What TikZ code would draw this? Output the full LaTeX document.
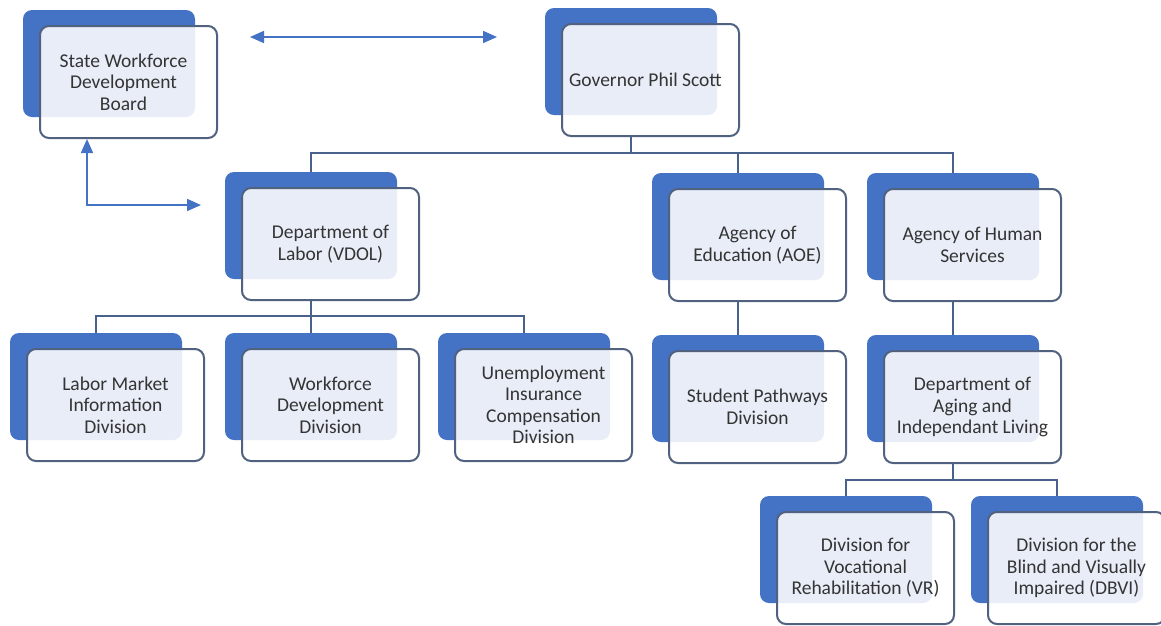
\documentclass[tikz,border=0pt]{standalone}
\usepackage{fontspec}
\setmainfont{Carlito}
\usepackage{tikz}
\usetikzlibrary{arrows.meta}
\definecolor{orgblue}{RGB}{68,114,196}
\definecolor{framec}{RGB}{80,98,128}
\definecolor{wirec}{RGB}{72,98,140}
\definecolor{ink}{RGB}{52,52,52}
\tikzset{
	unitback/.style={rectangle, rounded corners=9pt, fill=orgblue,
		minimum width=172pt, minimum height=107pt, inner sep=0pt},
	unitfront/.style={rectangle, rounded corners=9pt, draw=framec, line width=2pt,
		fill=white, fill opacity=0.88, text opacity=1, text=ink,
		minimum width=177pt, minimum height=112pt, inner sep=0pt,
		align=center, font=\fontsize{19.5}{21.5}\selectfont},
	wire/.style={draw=wirec, line width=1.9pt},
	dual/.style={draw=orgblue, line width=1.6pt,
		{Triangle[length=14pt,width=12pt]}-{Triangle[length=14pt,width=12pt]}},
}

\begin{document}
\begin{tikzpicture}[x=1pt, y=-1pt]
	\useasboundingbox (0,0) rectangle (1161,625);
	\fill[white] (0,0) rectangle (1161,625);
	% top row
	\node[unitback] (swdb-b) at (109,63.5) {};
	\node[unitfront] (swdb) at (128.5,82) {\hspace*{-10pt}State Workforce\\\hspace*{-10pt}Development\\\hspace*{-10pt}Board};
	\node[unitback] (gov-b) at (631,61.5) {};
	\node[unitfront] (gov) at (650.5,80) {\hspace*{-10pt}Governor Phil Scott};
	% agencies
	\node[unitback] (dol-b) at (311,225.5) {};
	\node[unitfront] (dol) at (330.5,244) {Department of\\Labor (VDOL)};
	\node[unitback] (aoe-b) at (738,226.5) {};
	\node[unitfront] (aoe) at (757.5,245) {Agency of\\Education (AOE)};
	\node[unitback] (ahs-b) at (953,226.5) {};
	\node[unitfront] (ahs) at (972.5,245) {Agency of Human\\Services};
	% divisions
	\node[unitback] (lmi-b) at (96,386.5) {};
	\node[unitfront] (lmi) at (115.5,405) {Labor Market\\Information\\Division};
	\node[unitback] (wdd-b) at (311,386.5) {};
	\node[unitfront] (wdd) at (330.5,405) {Workforce\\Development\\Division};
	\node[unitback] (uic-b) at (524,386.5) {};
	\node[unitfront] (uic) at (543.5,405) {Unemployment\\Insurance\\Compensation\\Division};
	\node[unitback] (sp-b) at (738,388.5) {};
	\node[unitfront] (sp) at (757.5,407) {Student Pathways\\Division};
	\node[unitback] (dail-b) at (953,388.5) {};
	\node[unitfront] (dail) at (972.5,407) {Department of\\Aging and\\Independant Living};
	\node[unitback] (dvr-b) at (846,549.5) {};
	\node[unitfront] (dvr) at (865.5,568) {Division for\\Vocational\\Rehabilitation (VR)};
	\node[unitback] (dbvi-b) at (1057,549.5) {};
	\node[unitfront] (dbvi) at (1076.5,568) {Division for the\\Blind and Visually\\Impaired (DBVI)};

	% tree lines
	\coordinate (bus-gov) at (0,153);
	\coordinate (bus-dol) at (0,316);
	\coordinate (bus-dail) at (0,480);
	\draw[wire] (gov-b |- gov.south) -- (gov-b |- bus-gov);
	\draw[wire] (dol-b.north) |- (bus-gov -| ahs-b) -- (ahs-b.north);
	\draw[wire] (aoe-b.north) -- (aoe-b |- bus-gov);
	\draw[wire] (dol-b |- dol.south) -- (dol-b |- bus-dol);
	\draw[wire] (lmi-b.north) |- (bus-dol -| uic-b) -- (uic-b.north);
	\draw[wire] (wdd-b.north) -- (wdd-b |- bus-dol);
	\draw[wire] (aoe-b |- aoe.south) -- (sp-b.north);
	\draw[wire] (ahs-b |- ahs.south) -- (dail-b.north);
	\draw[wire] (dail-b |- dail.south) -- (dail-b |- bus-dail);
	\draw[wire] (dvr-b.north) |- (bus-dail -| dbvi-b) -- (dbvi-b.north);

	% board links
	\coordinate (link-l) at (250,37);
	\coordinate (link-r) at (497,37);
	\coordinate (swdb-foot) at (87,139);
	\coordinate (dol-side) at (201,205);
	\draw[dual] (link-l) -- (link-r);
	\draw[dual] (swdb-foot) |- (dol-side);
\end{tikzpicture}
\end{document}
